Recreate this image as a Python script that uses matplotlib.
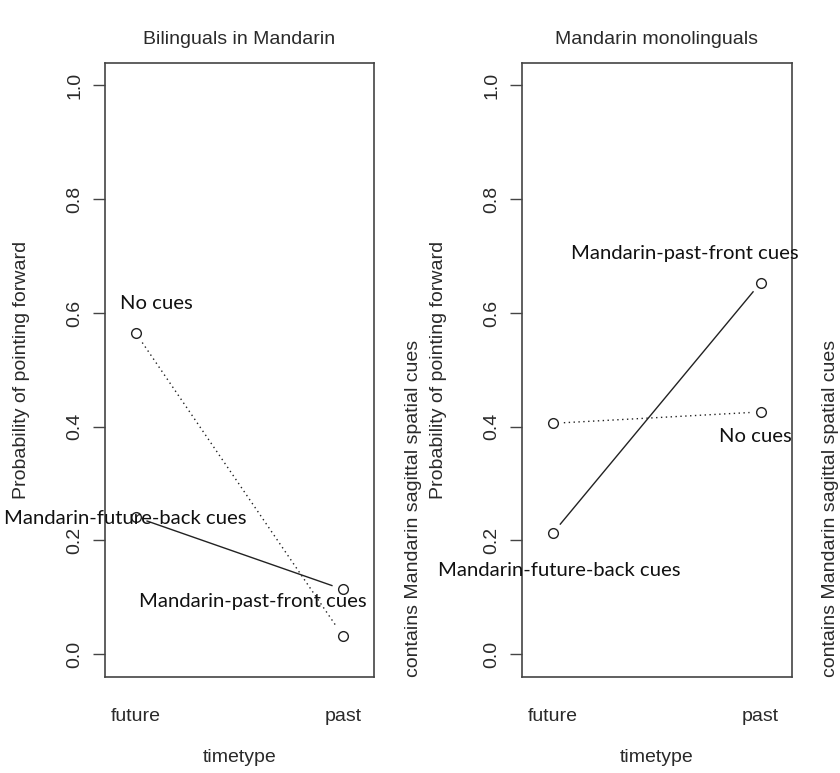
import numpy as np
import matplotlib
matplotlib.use("Agg")
import matplotlib.pyplot as plt

# ---- data ----
timetype = ["future", "past"]
panel_titles = ["Bilinguals in Mandarin", "Mandarin monolinguals"]
bil_no_cues = [0.564, 0.032]
bil_future_back = [0.241, 0.114]
mono_no_cues = [0.406, 0.426]
mono_past_front = [0.213, 0.653]
yticks = [0.0, 0.2, 0.4, 0.6, 0.8, 1.0]
ytick_labels = ["0.0", "0.2", "0.4", "0.6", "0.8", "1.0"]
ylabel = "Probability of pointing forward"
xlabel = "timetype"
trace_label = "contains Mandarin sagittal spatial cues"

# annotation labels (text, x, y) in data coordinates
bil_labels = [("No cues", 1.10, 0.617),
              ("Mandarin-future-back cues", 0.95, 0.239),
              ("Mandarin-past-front cues", 1.564, 0.092)]
mono_labels = [("Mandarin-past-front cues", 1.635, 0.704),
               ("No cues", 1.976, 0.383),
               ("Mandarin-future-back cues", 1.03, 0.148)]

W, H = 840, 773
DPI = 100
fig = plt.figure(figsize=(W / DPI, H / DPI), dpi=DPI)
plt.rcParams['font.family'] = ['Liberation Sans', 'DejaVu Sans']

axL = fig.add_axes([105 / W, (H - 677) / H, 269 / W, 614.3 / H])
axR = fig.add_axes([521.7 / W, (H - 677) / H, 270 / W, 614.3 / H])

label_font = ['Lato', 'DejaVu Sans']
FS = 14
LFS = 14.6
GAP = 11  # pixel gap between line and point (R type="b")

def draw_series(ax, vals, ls):
    xs = np.array([1, 2], dtype=float)
    ys = np.array(vals, dtype=float)
    ax.plot(xs, ys, 'o', mfc='none', mec='#222222', ms=7, mew=1.0, ls='none')
    pts = ax.transData.transform(np.column_stack([xs, ys]))
    for i in range(len(xs) - 1):
        p0, p1 = pts[i], pts[i + 1]
        d = p1 - p0
        L = np.hypot(*d)
        u = d / L
        a = p0 + u * GAP
        b = p1 - u * GAP
        seg = ax.transData.inverted().transform(np.vstack([a, b]))
        ax.plot(seg[:, 0], seg[:, 1], color='#222222', lw=1.0, ls=ls,
                solid_capstyle='butt')

def setup(ax, title):
    ax.set_xlim(0.85, 2.15)
    ax.set_ylim(-0.04, 1.04)
    ax.set_yticks(yticks)
    ax.set_yticklabels(ytick_labels, rotation=90, va='center', fontsize=FS,
                       color='#2a2a2a')
    ax.tick_params(axis='y', length=8.5, width=1.0, color='#444444', pad=7)
    ax.set_xticks([1, 2])
    ax.set_xticklabels(timetype, fontsize=FS, color='#2a2a2a')
    ax.tick_params(axis='x', length=0, pad=22)
    for s in ax.spines.values():
        s.set_color('#444444')
        s.set_linewidth(1.2)
    ax.text(0.5, 1 + 22.7 / 614.3, title, transform=ax.transAxes, ha='center',
            va='center', fontsize=FS, color='#2a2a2a')
    ax.text(-83 / 269, 0.5, ylabel, transform=ax.transAxes, rotation=90,
            ha='center', va='center', fontsize=FS, color='#2a2a2a')
    ax.text(0.5, -80 / 614.3, xlabel, transform=ax.transAxes, ha='center',
            va='center', fontsize=FS, color='#2a2a2a')
    ax.text(1 + 39 / 269, 0.0, trace_label, transform=ax.transAxes,
            rotation=90, ha='center', va='bottom', fontsize=FS, color='#2a2a2a')

setup(axL, panel_titles[0])
setup(axR, panel_titles[1])

draw_series(axL, bil_no_cues, (0, (1, 2.5)))
draw_series(axL, bil_future_back, '-')
draw_series(axR, mono_no_cues, (0, (1, 2.5)))
draw_series(axR, mono_past_front, '-')

for ax, labs in ((axL, bil_labels), (axR, mono_labels)):
    for t, x, y in labs:
        ax.text(x, y, t, ha='center', va='center', fontsize=LFS,
                family=label_font, color='#111111', clip_on=False)

fig.savefig("out.png", dpi=DPI)
